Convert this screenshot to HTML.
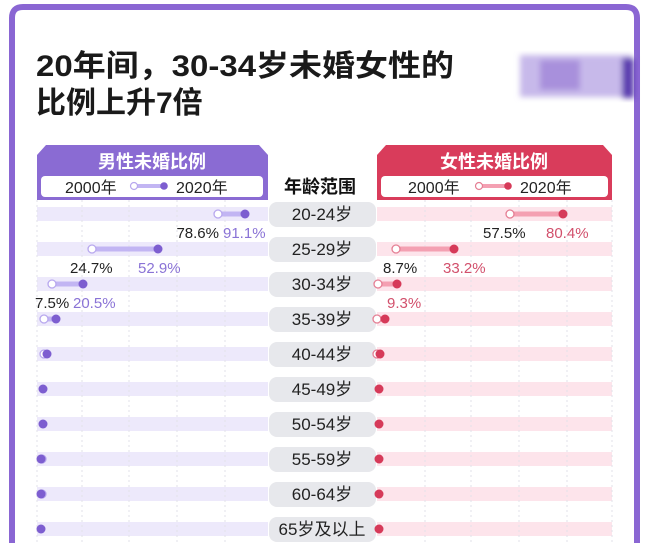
<!DOCTYPE html>
<html><head><meta charset="utf-8"><style>
body{margin:0;background:#fff;}
svg{display:block;font-family:"Liberation Sans","Noto Sans CJK SC",sans-serif;}
</style></head><body>
<svg width="650" height="543" viewBox="0 0 650 543" xmlns="http://www.w3.org/2000/svg">
<defs><filter id="b"><feGaussianBlur stdDeviation="3"/></filter></defs>
<rect width="650" height="543" fill="#fff"/>
<path d="M12,560 V18 Q12,7 23,7 H626 Q637,7 637,18 V560" fill="none" stroke="#8a66d3" stroke-width="6"/>
<text x="36" y="76" font-size="30" font-weight="bold" fill="#1a1a1a" textLength="418" lengthAdjust="spacingAndGlyphs">20年间，30-34岁未婚女性的</text>
<text x="36" y="113" font-size="30" font-weight="bold" fill="#1a1a1a">比例上升7倍</text>
<g filter="url(#b)">
<rect x="520" y="55" width="112" height="42" fill="#c7b9ea"/>
<rect x="540" y="60" width="40" height="30" fill="#a890dc"/>
<rect x="622" y="58" width="12" height="40" fill="#5b3cb0"/>
</g>
<!-- left header -->
<path d="M37,200 V155 L46,145 H259 L268,155 V200 Z" fill="#8a6bd3"/>
<text x="152" y="168" font-size="18" font-weight="bold" fill="#fff" text-anchor="middle">男性未婚比例</text>
<rect x="41" y="176" width="222" height="21" rx="4" fill="#fff"/>
<text x="65" y="193" font-size="16" fill="#222">2000年</text>
<line x1="134" y1="186" x2="163" y2="186" stroke="#c2b5f3" stroke-width="4"/>
<circle cx="134" cy="186" r="3.5" fill="#fff" stroke="#b8a8ee" stroke-width="1.2"/>
<circle cx="164" cy="186" r="3.8" fill="#7d5ed0"/>
<text x="176" y="193" font-size="16" fill="#222">2020年</text>
<!-- right header -->
<path d="M377,200 V155 L386,145 H603 L612,155 V200 Z" fill="#d93c5b"/>
<text x="494" y="168" font-size="18" font-weight="bold" fill="#fff" text-anchor="middle">女性未婚比例</text>
<rect x="381" y="176" width="227" height="21" rx="4" fill="#fff"/>
<text x="408" y="193" font-size="16" fill="#222">2000年</text>
<line x1="479" y1="186" x2="507" y2="186" stroke="#f4a0b2" stroke-width="4"/>
<circle cx="479" cy="186" r="3.5" fill="#fff" stroke="#e57f94" stroke-width="1.2"/>
<circle cx="508" cy="186" r="3.8" fill="#d63a59"/>
<text x="520" y="193" font-size="16" fill="#222">2020年</text>
<text x="320" y="193" font-size="18" font-weight="bold" fill="#111" text-anchor="middle">年龄范围</text>
<!-- bands -->
<g fill="#ede9fb">
<rect x="37" y="207" width="231" height="14"/><rect x="37" y="242" width="231" height="14"/><rect x="37" y="277" width="231" height="14"/><rect x="37" y="312" width="231" height="14"/><rect x="37" y="347" width="231" height="14"/><rect x="37" y="382" width="231" height="14"/><rect x="37" y="417" width="231" height="14"/><rect x="37" y="452" width="231" height="14"/><rect x="37" y="487" width="231" height="14"/><rect x="37" y="522" width="231" height="14"/>
</g>
<g fill="#fde4eb">
<rect x="377" y="207" width="235" height="14"/><rect x="377" y="242" width="235" height="14"/><rect x="377" y="277" width="235" height="14"/><rect x="377" y="312" width="235" height="14"/><rect x="377" y="347" width="235" height="14"/><rect x="377" y="382" width="235" height="14"/><rect x="377" y="417" width="235" height="14"/><rect x="377" y="452" width="235" height="14"/><rect x="377" y="487" width="235" height="14"/><rect x="377" y="522" width="235" height="14"/>
</g>
<g stroke="#e2e2e8" stroke-width="1" stroke-dasharray="2,3">
<line x1="37" y1="200" x2="37" y2="543"/><line x1="82" y1="200" x2="82" y2="543"/><line x1="129" y1="200" x2="129" y2="543"/><line x1="177" y1="200" x2="177" y2="543"/><line x1="225" y1="200" x2="225" y2="543"/>
<line x1="425" y1="200" x2="425" y2="543"/><line x1="471" y1="200" x2="471" y2="543"/><line x1="519" y1="200" x2="519" y2="543"/><line x1="567" y1="200" x2="567" y2="543"/><line x1="612" y1="200" x2="612" y2="543"/>
</g>
<!-- pills -->
<g fill="#e7e8ec">
<rect x="269" y="202" width="107" height="25" rx="8"/><rect x="269" y="237" width="107" height="25" rx="8"/><rect x="269" y="272" width="107" height="25" rx="8"/><rect x="269" y="307" width="107" height="25" rx="8"/><rect x="269" y="342" width="107" height="25" rx="8"/><rect x="269" y="377" width="107" height="25" rx="8"/><rect x="269" y="412" width="107" height="25" rx="8"/><rect x="269" y="447" width="107" height="25" rx="8"/><rect x="269" y="482" width="107" height="25" rx="8"/><rect x="269" y="517" width="107" height="25" rx="8"/>
</g>
<g font-size="17" fill="#222" text-anchor="middle">
<text x="322" y="220">20-24岁</text><text x="322" y="255">25-29岁</text><text x="322" y="290">30-34岁</text><text x="322" y="325">35-39岁</text><text x="322" y="360">40-44岁</text><text x="322" y="395">45-49岁</text><text x="322" y="430">50-54岁</text><text x="322" y="465">55-59岁</text><text x="322" y="500">60-64岁</text><text x="322" y="535">65岁及以上</text>
</g>
<!-- left dumbbells -->
<g stroke="#c2b5f3" stroke-width="5">
<line x1="218" y1="214" x2="245" y2="214"/><line x1="92" y1="249" x2="158" y2="249"/><line x1="52" y1="284" x2="83" y2="284"/><line x1="44" y1="319" x2="56" y2="319"/>
</g>
<g fill="#fff" stroke="#b8a8ee" stroke-width="1.3">
<circle cx="218" cy="214" r="4"/><circle cx="92" cy="249" r="4"/><circle cx="52" cy="284" r="4"/><circle cx="44" cy="319" r="4"/><circle cx="44" cy="354" r="4"/><circle cx="42" cy="459" r="4"/><circle cx="42" cy="494" r="4"/>
</g>
<g fill="#7d5ed0">
<circle cx="245" cy="214" r="4.5"/><circle cx="158" cy="249" r="4.5"/><circle cx="83" cy="284" r="4.5"/><circle cx="56" cy="319" r="4.5"/><circle cx="47" cy="354" r="4.5"/><circle cx="43" cy="389" r="4.5"/><circle cx="43" cy="424" r="4.5"/><circle cx="41" cy="459" r="4.5"/><circle cx="41" cy="494" r="4.5"/><circle cx="41" cy="529" r="4.5"/>
</g>
<g font-size="15">
<text x="219" y="238" fill="#222" text-anchor="end">78.6%</text><text x="223" y="238" fill="#8a73d6">91.1%</text>
<text x="70" y="273" fill="#222">24.7%</text><text x="138" y="273" fill="#8a73d6">52.9%</text>
<text x="35" y="308" fill="#222">7.5%</text><text x="73" y="308" fill="#8a73d6">20.5%</text>
</g>
<!-- right dumbbells -->
<g stroke="#f4a0b2" stroke-width="5">
<line x1="510" y1="214" x2="563" y2="214"/><line x1="396" y1="249" x2="454" y2="249"/><line x1="378" y1="284" x2="397" y2="284"/><line x1="377" y1="319" x2="385" y2="319"/>
</g>
<g fill="#fff" stroke="#e57f94" stroke-width="1.3">
<circle cx="510" cy="214" r="4"/><circle cx="396" cy="249" r="4"/><circle cx="378" cy="284" r="4"/><circle cx="377" cy="319" r="4"/><circle cx="377" cy="354" r="4"/>
</g>
<g fill="#d63a59">
<circle cx="563" cy="214" r="4.5"/><circle cx="454" cy="249" r="4.5"/><circle cx="397" cy="284" r="4.5"/><circle cx="385" cy="319" r="4.5"/><circle cx="380" cy="354" r="4.5"/><circle cx="379" cy="389" r="4.5"/><circle cx="379" cy="424" r="4.5"/><circle cx="379" cy="459" r="4.5"/><circle cx="379" cy="494" r="4.5"/><circle cx="379" cy="529" r="4.5"/>
</g>
<g font-size="15">
<text x="483" y="238" fill="#222">57.5%</text><text x="546" y="238" fill="#d2506c">80.4%</text>
<text x="383" y="273" fill="#222">8.7%</text><text x="443" y="273" fill="#d2506c">33.2%</text>
<text x="387" y="308" fill="#d2506c">9.3%</text>
</g>
</svg>
</body></html>
